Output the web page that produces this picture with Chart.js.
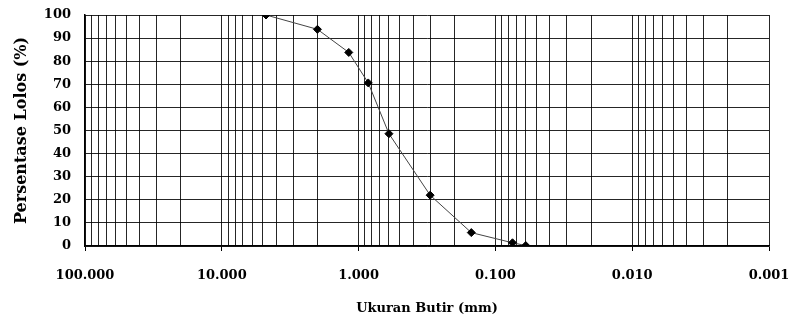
<!DOCTYPE html>
<html>
<head>
<meta charset="utf-8">
<script src="https://cdn.jsdelivr.net/npm/chart.js@4.4.0/dist/chart.umd.min.js"></script>
<style>
    html, body { margin: 0; padding: 0; background: #fff; }
    #wrap { width: 789px; height: 319px; }
</style>
</head>
<body>
<div id="wrap"><canvas id="gradChart" width="789" height="319"></canvas></div>
<script>
// Sieve sizes (mm) and percent passing
const grainSize = [4.75, 2.0, 1.18, 0.85, 0.6, 0.3, 0.15, 0.075, 0.06];
const percentPassing = [100, 93.8, 83.8, 70.6, 48.6, 22.0, 5.8, 1.4, 0.2];
const decadeTicks = [100, 10, 1, 0.1, 0.01, 0.001];
const yTicks = [0, 10, 20, 30, 40, 50, 60, 70, 80, 90, 100];

const fontFamily = '"DejaVu Serif", serif';

function isDecade(v) {
    return decadeTicks.some(d => Math.abs(v - d) / d < 1e-6);
}

const points = grainSize.map((x, i) => ({ x: x, y: percentPassing[i] }));

new Chart(document.getElementById('gradChart'), {
    type: 'line',
    data: {
        datasets: [{
            data: points,
            borderColor: '#444',
            borderWidth: 1,
            pointStyle: 'rectRot',
            pointRadius: 4,
            pointBackgroundColor: '#000',
            pointBorderColor: '#000',
            tension: 0
        }]
    },
    options: {
        responsive: false,
        animation: false,
        layout: { padding: { top: 15, right: 20, bottom: 3, left: 0 } },
        plugins: {
            legend: { display: false },
            tooltip: { enabled: false }
        },
        scales: {
            x: {
                type: 'logarithmic',
                reverse: true,
                min: 0.001,
                max: 100,
                afterBuildTicks: function(scale) {
                    // gridlines at 1..9 x each decade
                    const t = [];
                    for (let e = -3; e <= 2; e++) {
                        for (let m = 1; m <= 9; m++) {
                            const v = m * Math.pow(10, e);
                            if (v <= 100) t.push({ value: v });
                        }
                    }
                    scale.ticks = t;
                },
                afterFit: function(scale) { scale.height = 70; },
                ticks: {
                    autoSkip: false,
                    maxRotation: 0,
                    padding: 17,
                    color: '#000',
                    font: { family: fontFamily, size: 13, weight: 'bold' },
                    callback: function(v) { return isDecade(v) ? v.toFixed(3) : ''; }
                },
                grid: {
                    color: 'rgba(0,0,0,0.85)',
                    lineWidth: 1,
                    tickLength: 5,
                    tickColor: ctx => (ctx.tick && isDecade(ctx.tick.value)) ? '#000' : 'rgba(0,0,0,0)'
                },
                border: { color: '#000', width: 1.5 },
                title: {
                    display: true,
                    text: 'Ukuran Butir (mm)',
                    color: '#000',
                    padding: { top: 8, bottom: 0 },
                    font: { family: fontFamily, size: 13, weight: 'bold' }
                }
            },
            y: {
                min: 0,
                max: 100,
                afterBuildTicks: function(scale) {
                    scale.ticks = yTicks.map(v => ({ value: v }));
                },
                afterFit: function(scale) {
                    scale.width = 85;
                    scale.paddingTop = 4;
                    scale.paddingBottom = 4;
                },
                ticks: {
                    padding: 14,
                    color: '#000',
                    font: { family: fontFamily, size: 13, weight: 'bold' }
                },
                grid: {
                    color: 'rgba(0,0,0,0.85)',
                    lineWidth: 1,
                    drawTicks: false
                },
                border: { color: '#000', width: 1.5 },
                title: {
                    display: true,
                    text: 'Persentase Lolos (%)',
                    color: '#000',
                    padding: { top: 12, bottom: 4 },
                    font: { family: fontFamily, size: 16, weight: 'bold' }
                }
            }
        }
    }
});
</script>
</body>
</html>
